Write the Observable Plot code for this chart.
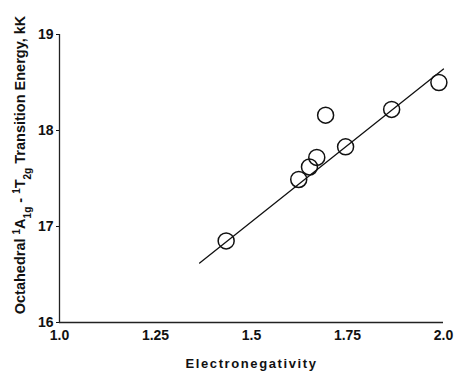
<!DOCTYPE html>
<html><head><meta charset="utf-8">
<script src="https://cdn.jsdelivr.net/npm/d3@7"></script>
<script src="https://cdn.jsdelivr.net/npm/@observablehq/plot@0.6"></script>
<style>
body{margin:0;background:#fff;}
svg{font-family:"Liberation Sans",Arial,sans-serif;}
</style>
</head><body>
<div id="chart"></div>
<script>
const electronegativity = [1.434, 1.623, 1.651, 1.670, 1.693, 1.745, 1.865, 1.988];
const transitionEnergy = [16.85, 17.49, 17.62, 17.72, 18.16, 17.83, 18.22, 18.50];
const fitX = [1.365, 2.0];
const fitY = [16.62, 18.64];
const xTicks = [1.0, 1.25, 1.5, 1.75, 2.0];
const xTickLabels = ["1.0", "1.25", "1.5", "1.75", "2.0"];
const yTicks = [16, 17, 18, 19];
const yTickLabels = ["16", "17", "18", "19"];

const points = electronegativity.map((x, i) => ({x, y: transitionEnergy[i]}));
const fit = fitX.map((x, i) => ({x, y: fitY[i]}));

const plot = Plot.plot({
  width: 454, height: 375,
  marginLeft: 59, marginRight: 11, marginTop: 34, marginBottom: 53,
  style: {fontFamily: "'Liberation Sans', Arial, sans-serif", fontSize: "13px", fontWeight: "bold", color: "#111", background: "#fff"},
  x: {domain: [1.0, 2.0], label: null},
  y: {domain: [16, 19], label: null},
  marks: [
    Plot.axisX({ticks: xTicks, tickFormat: (d, i) => xTickLabels[i], tickSize: 0, tickPadding: 8, fontSize: 14, fontWeight: "bold", label: null}),
    Plot.axisY({ticks: yTicks, tickFormat: (d, i) => yTickLabels[i], tickSize: 3, tickPadding: 3, fontSize: 14, fontWeight: "bold", label: null, stroke: "#111"}),
    Plot.ruleY([16], {stroke: "#222", strokeWidth: 1.3}),
    Plot.ruleX([1.0], {stroke: "#222", strokeWidth: 1.3}),
    Plot.line(fit, {x: "x", y: "y", stroke: "#111", strokeWidth: 1.3}),
    Plot.dot(points, {x: "x", y: "y", r: 8, stroke: "#111", strokeWidth: 1.5, fill: "none"}),
    Plot.text(["Electronegativity"], {frameAnchor: "bottom", dy: 45, text: d => d, fontSize: 13, fontWeight: "bold", fill: "#111"})
  ]
});

const svg = d3.select(plot);
svg.selectAll("text").filter(function(){return this.textContent === "Electronegativity";}).attr("letter-spacing", "1.6px");
const t = svg.append("text")
  .attr("transform", "translate(25,165) rotate(-90)")
  .attr("text-anchor", "middle")
  .attr("font-size", 14.5).attr("font-weight", "bold").attr("fill", "#111")
  .attr("font-family", "'Liberation Sans', Arial, sans-serif");
const parts = [
  ["Octahedral ", 0], ["1", "sup"], ["A", 0], ["1g", "sub"], [" - ", 0], ["1", "sup"], ["T", 0], ["2g", "sub"], [" Transition Energy, kK", 0]
];
for (const [s, k] of parts) {
  const sp = t.append("tspan").text(s);
  if (k === "sup") sp.attr("font-size", 10).attr("baseline-shift", "super");
  if (k === "sub") sp.attr("font-size", 10).attr("baseline-shift", "sub");
}
document.getElementById("chart").appendChild(plot);
</script>
</body></html>
